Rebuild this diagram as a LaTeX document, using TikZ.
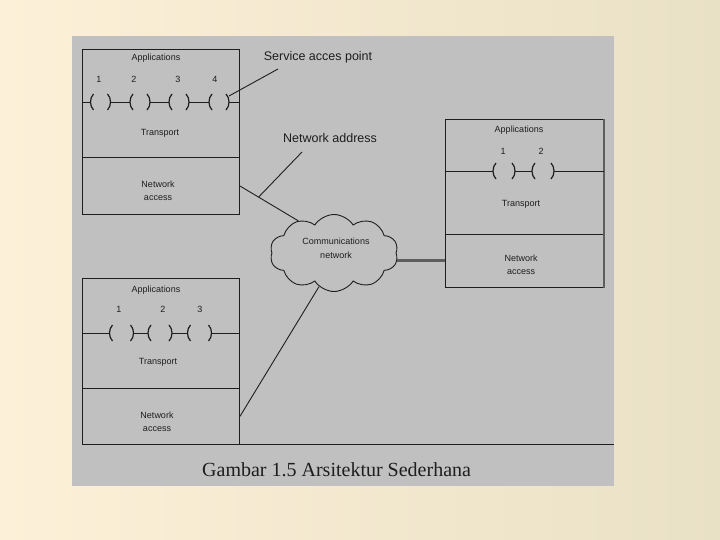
\documentclass[tikz,border=0pt]{standalone}
\usepackage{fontspec}
\setmainfont{Liberation Serif}
\setsansfont{Liberation Sans}
\usetikzlibrary{shapes.symbols,calc}
\definecolor{bgL}{HTML}{FDF0D8}
\definecolor{bgR}{HTML}{E9E1C6}
\definecolor{panelgray}{HTML}{C0C0C0}
\definecolor{ink}{HTML}{1E1E1E}
\definecolor{thickgray}{HTML}{5E5E5E}
\tikzset{
  layerbox/.style={draw=ink, line width=0.9pt, inner sep=0pt, anchor=north west},
  small/.style={font=\sffamily\fontsize{9}{13.5}\selectfont, text=ink, inner sep=0pt, align=center},
  callout/.style={font=\sffamily\fontsize{12.5}{14}\selectfont, text=ink, inner sep=0pt},
  wire/.style={draw=ink, line width=0.9pt},
  sapline/.style={draw=ink, line width=1.2pt},
}
% #1 name, #2 x, #3 y, #4 half width
\newcommand\mysap[4]{%
  \coordinate (#1) at (#2,#3);
  \coordinate (#1-l) at (#2-#4,#3);
  \coordinate (#1-r) at (#2+#4,#3);
  \draw[sapline] ($(#1)+(-#4+3,-8)$) .. controls ($(#1)+(-#4-1,-4)$) and ($(#1)+(-#4-1,4)$) .. ($(#1)+(-#4+3,8)$);
  \draw[sapline] ($(#1)+(#4-3,-8)$) .. controls ($(#1)+(#4+1,-4)$) and ($(#1)+(#4+1,4)$) .. ($(#1)+(#4-3,8)$);
}
\begin{document}
\begin{tikzpicture}[x=1pt,y=-1pt]
\shade[left color=bgL, right color=bgR] (0,0) rectangle (720,540);
\useasboundingbox (0,0) rectangle (720,540);
\node[fill=panelgray, minimum width=542pt, minimum height=450pt, inner sep=0pt, anchor=north west] (panel) at (72,36) {};

% ---- top-left stack
\node[layerbox, minimum width=157pt, minimum height=108pt] (b1a) at (82,49) {};
\node[layerbox, minimum width=157pt, minimum height=57pt] (b1b) at (82,157) {};
\node[small] (b1app) at (156,58) {Applications};
\node[small] (b1n1) at (99,79) {1};
\node[small] (b1n2) at (134,79) {2};
\node[small] (b1n3) at (178,79) {3};
\node[small] (b1n4) at (215,79) {4};
\mysap{s11}{100.5}{102}{10}
\mysap{s12}{140}{102}{10}
\mysap{s13}{179}{102}{10}
\mysap{s14}{219}{102}{10}
\draw[wire] (b1a.west |- s11) -- (s11-l) (s11-r) -- (s12-l) (s12-r) -- (s13-l) (s13-r) -- (s14-l) (s14-r) -- (b1a.east |- s14);
\node[small] (b1tr) at (160,133) {Transport};
\node[small] (b1na) at (158,191) {Network\\access};

% ---- right stack
\node[layerbox, minimum width=158pt, minimum height=115pt] (b2a) at (445,119) {};
\node[layerbox, minimum width=158pt, minimum height=53pt] (b2b) at (445,234) {};
\draw[draw=thickgray, line width=1.6pt] (b2a.north east) -- (b2b.south east);
\node[small] (b2app) at (519,130) {Applications};
\node[small] (b2n1) at (503,151) {1};
\node[small] (b2n2) at (541,151) {2};
\mysap{s21}{504}{171}{11}
\mysap{s22}{543}{171}{11}
\draw[wire] (b2a.west |- s21) -- (s21-l) (s21-r) -- (s22-l) (s22-r) -- (b2a.east |- s22);
\node[small] (b2tr) at (521,204) {Transport};
\node[small] (b2na) at (521,265) {Network\\access};

% ---- bottom-left stack
\node[layerbox, minimum width=157pt, minimum height=110pt] (b3a) at (82,278) {};
\node[layerbox, minimum width=157pt, minimum height=56pt] (b3b) at (82,388) {};
\node[small] (b3app) at (156,290) {Applications};
\node[small] (b3n1) at (119,309) {1};
\node[small] (b3n2) at (163,309) {2};
\node[small] (b3n3) at (200,309) {3};
\mysap{s31}{121.5}{333}{12}
\mysap{s32}{160}{333}{12}
\mysap{s33}{199.5}{333}{12}
\draw[wire] (b3a.west |- s31) -- (s31-l) (s31-r) -- (s32-l) (s32-r) -- (s33-l) (s33-r) -- (b3a.east |- s33);
\node[small] (b3tr) at (158,362) {Transport};
\node[small] (b3na) at (157,422) {Network\\access};

% ---- cloud
\node[cloud, draw=ink, line width=0.9pt, fill=panelgray, cloud puffs=10, cloud puff arc=115,
      minimum width=128pt, minimum height=77pt, inner sep=0pt] (net) at (334,253) {};
\node[small] (nettext) at (336,248.5) {Communications\\network};

% ---- connectors
\coordinate (c1) at (net.138);
\draw[wire] (b1b.east) -- (c1);
\draw[wire] (b3b.east) -- (net.246);
\draw[draw=thickgray, line width=3pt] (net.east |- b2b.west) -- (b2b.west);
\draw[wire] (b3b.south west) -- (b3b.south west -| panel.east);

% ---- callouts
\node[callout] (saplabel) at (318,57) {Service acces point};
\coordinate (sapend) at (278,69);
\coordinate (sapstart) at ($(s14-r)+(0,-6)$);
\draw[wire] (sapstart) -- (sapend);
\node[callout] (nalabel) at (330,138) {Network address};
\coordinate (naend) at (302,152);
\coordinate (nastart) at ($(b1b.east)!0.32!(c1)$);
\draw[wire] (nastart) -- (naend);

% ---- caption
\node[font=\fontsize{20}{24}\selectfont, text=ink, inner sep=0pt, anchor=west] (cap) at (202,470) {Gambar 1.5 Arsitektur Sederhana};
\end{tikzpicture}
\end{document}
